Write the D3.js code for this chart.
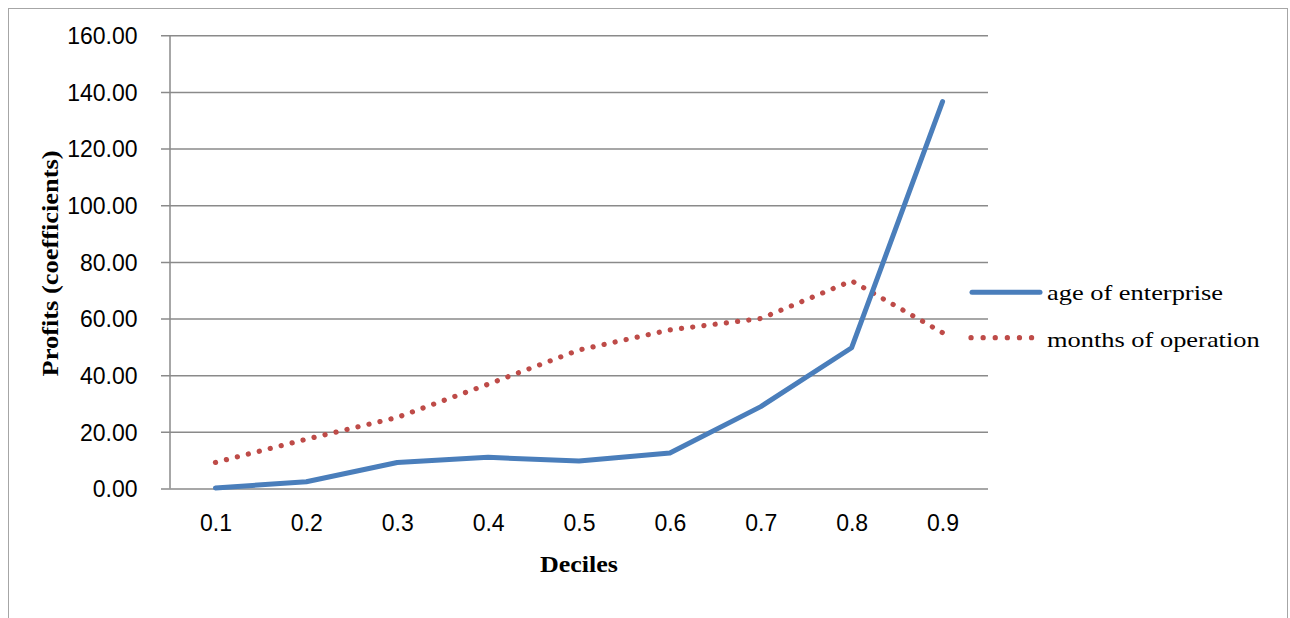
<!DOCTYPE html>
<html>
<head>
<meta charset="utf-8">
<script src="https://cdn.jsdelivr.net/npm/d3@7"></script>
<style>
  html, body { margin: 0; padding: 0; background: #ffffff; }
  svg { display: block; }
</style>
</head>
<body>
<svg id="chart" width="1290" height="618"></svg>
<script>
// Quantile regression coefficients by decile
const deciles = ["0.1", "0.2", "0.3", "0.4", "0.5", "0.6", "0.7", "0.8", "0.9"];
const ageOfEnterprise = [0.2, 2.4, 9.2, 11.0, 9.7, 12.5, 28.9, 49.7, 136.6];
const monthsOfOperation = [9.2, 17.4, 25.1, 36.8, 48.9, 56.0, 60.0, 73.3, 55.0];
const yTicks = [0, 20, 40, 60, 80, 100, 120, 140, 160];
const seriesNames = ["age of enterprise", "months of operation"];

const svg = d3.select("#chart");
const plot = { left: 170, right: 988, top: 35.3, bottom: 488.5 };

const blue = "#4a7ebb";
const red = "#be4b48";
const grid = "#8a8a8a";

// outer chart frame (bottom edge falls below the visible area)
svg.append("rect")
  .attr("x", 8.5).attr("y", 8.5)
  .attr("width", 1279).attr("height", 700)
  .attr("fill", "none").attr("stroke", "#a6a6a6").attr("stroke-width", 1);

const x = d3.scalePoint().domain(deciles).range([plot.left, plot.right]).padding(0.5);
const y = d3.scaleLinear().domain([0, 160]).range([plot.bottom, plot.top]);

// horizontal gridlines + y axis with outer ticks
const yAxis = d3.axisLeft(y)
  .tickValues(yTicks)
  .tickSize(-(plot.right - plot.left))
  .tickPadding(0)
  .tickFormat(d3.format(".2f"));

const gy = svg.append("g")
  .attr("transform", `translate(${plot.left},0)`)
  .call(yAxis);
gy.select(".domain").remove();
gy.selectAll(".tick line")
  .attr("x1", -9)
  .attr("stroke", grid).attr("stroke-width", 1.5);
gy.selectAll(".tick text")
  .attr("x", -32.5)
  .attr("dy", "0.36em")
  .attr("font-family", "'Liberation Sans', Arial, sans-serif")
  .attr("font-size", 23)
  .attr("fill", "#000");

// vertical axis line
svg.append("line")
  .attr("x1", plot.left).attr("x2", plot.left)
  .attr("y1", plot.top).attr("y2", plot.bottom)
  .attr("stroke", grid).attr("stroke-width", 1.5);

// category axis labels
const xAxis = d3.axisBottom(x).tickSize(0).tickPadding(0);
const gx = svg.append("g")
  .attr("transform", `translate(0,${plot.bottom})`)
  .call(xAxis);
gx.select(".domain").remove();
gx.selectAll(".tick text")
  .attr("y", 42.5)
  .attr("dy", 0)
  .attr("font-family", "'Liberation Sans', Arial, sans-serif")
  .attr("font-size", 23)
  .attr("fill", "#000");

// series lines
const line = d3.line()
  .x((d, i) => x(deciles[i]))
  .y(d => y(d));

svg.append("path")
  .datum(monthsOfOperation)
  .attr("d", line)
  .attr("fill", "none")
  .attr("stroke", red)
  .attr("stroke-width", 5.2)
  .attr("stroke-linecap", "round")
  .attr("stroke-dasharray", "0.1 11.2");

svg.append("path")
  .datum(ageOfEnterprise)
  .attr("d", line)
  .attr("fill", "none")
  .attr("stroke", blue)
  .attr("stroke-width", 5)
  .attr("stroke-linejoin", "round")
  .attr("stroke-linecap", "round");

// axis titles
svg.append("text")
  .attr("x", (plot.left + plot.right) / 2)
  .attr("y", 571.7)
  .attr("text-anchor", "middle")
  .attr("font-family", "'Liberation Serif', 'Times New Roman', serif")
  .attr("font-weight", "bold")
  .attr("font-size", 24)
  .attr("textLength", 78)
  .attr("lengthAdjust", "spacingAndGlyphs")
  .text("Deciles");

svg.append("text")
  .attr("transform", `translate(57.5,${(plot.top + plot.bottom) / 2 + 1.5}) rotate(-90)`)
  .attr("text-anchor", "middle")
  .attr("font-family", "'Liberation Serif', 'Times New Roman', serif")
  .attr("font-weight", "bold")
  .attr("font-size", 23)
  .attr("textLength", 226)
  .attr("lengthAdjust", "spacingAndGlyphs")
  .text("Profits (coefficients)");

// legend
const legend = svg.append("g");
const legendRows = [
  { name: seriesNames[0], color: blue, dotted: false, y: 292.3, base: 299.5, len: 176 },
  { name: seriesNames[1], color: red, dotted: true, y: 337.7, base: 346.7, len: 212.7 }
];
legendRows.forEach(r => {
  const ln = legend.append("line")
    .attr("x1", r.dotted ? 971 : 972).attr("x2", r.dotted ? 1034 : 1040)
    .attr("y1", r.y).attr("y2", r.y)
    .attr("stroke", r.color)
    .attr("stroke-linecap", "round");
  if (r.dotted) {
    ln.attr("stroke-width", 5.2).attr("stroke-dasharray", "0.1 12");
  } else {
    ln.attr("stroke-width", 5);
  }
  legend.append("text")
    .attr("x", 1047)
    .attr("y", r.base)
    .attr("font-family", "'Liberation Serif', 'Times New Roman', serif")
    .attr("font-size", 22)
    .attr("textLength", r.len)
    .attr("lengthAdjust", "spacingAndGlyphs")
    .attr("fill", "#000")
    .text(r.name);
});
</script>
</body>
</html>
